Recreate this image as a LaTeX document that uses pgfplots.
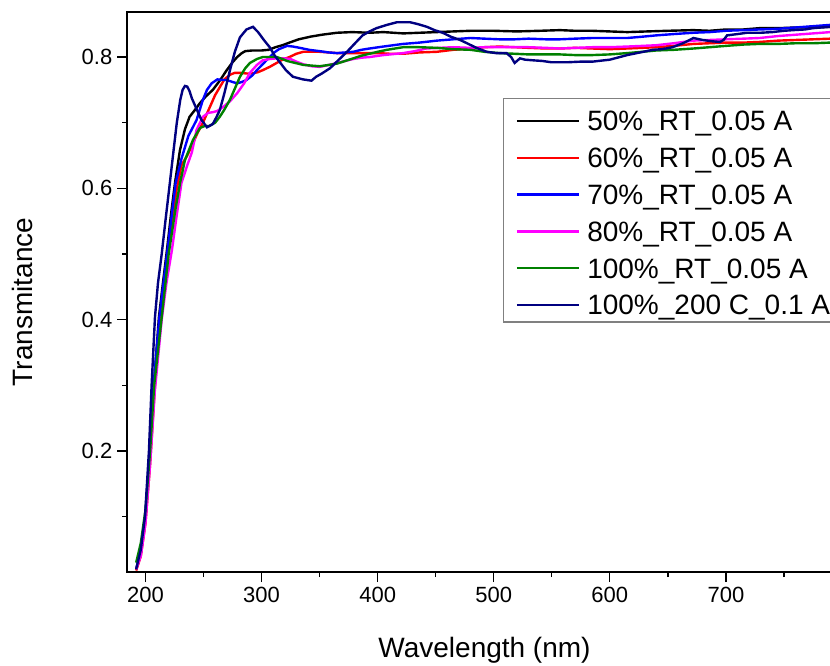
\documentclass[border=0pt]{standalone}
\usepackage{pgfplots}
\pgfplotsset{compat=1.18}
\usepackage{fontspec}
\setmainfont{Liberation Sans}
\definecolor{cgreen}{RGB}{0,128,0}
\definecolor{cnavy}{RGB}{0,0,128}
\definecolor{cmag}{RGB}{255,0,255}
\begin{document}
\begin{tikzpicture}
\path[use as bounding box] (0,0) rectangle (622.5pt,498.75pt);
\clip (0,0) rectangle (622.5pt,498.75pt);
\begin{axis}[
  at={(95.25pt,69.75pt)}, anchor=south west,
  scale only axis, width=536.25pt, height=420pt,
  xmin=184.1, xmax=800, ymin=0.0157, ymax=0.8686,
  xtick={200,300,400,500,600,700},
  minor xtick={250,350,450,550,650,750},
  ytick={0.2,0.4,0.6,0.8},
  minor ytick={0.1,0.3,0.5,0.7},
  tick align=outside,
  major tick length=7.5pt, minor tick length=3.75pt,
  every tick/.style={black, line width=1pt},
  axis line style={line width=1.3pt},
  tick pos=left,
  /pgf/number format/assume math mode=true,
  /pgf/number format/fixed,
  /pgf/number format/precision=1,
  tick label style={font=\fontsize{16.5}{19}\selectfont},
  label style={font=\fontsize{21}{25}\selectfont},
  xlabel={Wavelength (nm)},
  ylabel={Transmitance},
  xlabel style={at={(axis description cs:0.5,-0.1518)}, anchor=base},
  ylabel style={at={(axis description cs:-0.1315,0.482)}, anchor=base, rotate=0},
  legend style={at={(axis description cs:0.5259,0.8464)}, anchor=north west,
    draw=gray, line width=0.8pt, fill=white,
    font=\fontsize{21}{25}\selectfont,
    inner xsep=9pt, inner ysep=1pt, row sep=0pt, column sep=5.5pt,
    nodes={inner xsep=0pt, inner ysep=0pt, text height=23.25pt, text depth=4.35pt}},
  legend cell align=left,
  legend image code/.code={\draw[#1, line width=1.8pt] (0pt,-2pt) -- (46.5pt,-2pt);},
  every axis plot/.append style={line width=1.8pt},
]
% 50%_RT_0.05 A
\addplot[black] coordinates {
(192,0.020) (196,0.045) (200,0.10) (204,0.20) (207.3,0.30) (211.6,0.404) (215,0.455) (218.5,0.506) (222,0.56) (225.4,0.608) (229.7,0.658) (234,0.690) (238,0.709) (242,0.718) (247,0.730) (252,0.740) (258,0.750) (264,0.764) (270,0.780) (275,0.792) (279,0.800) (283,0.806) (286,0.809) (292,0.810) (300,0.810) (306,0.811) (312,0.815) (318,0.818) (324,0.822) (332,0.827) (342,0.831) (352,0.834) (365,0.837) (378,0.838) (393,0.837) (405,0.838) (422,0.836) (436,0.837) (451,0.838) (465,0.839) (480,0.840) (500,0.840) (520,0.839) (540,0.840) (557,0.841) (570,0.840) (585,0.840) (600,0.839) (615,0.838) (632,0.839) (650,0.840) (672,0.841) (686,0.840) (700,0.842) (715,0.842) (729,0.844) (745,0.844) (760,0.845) (775,0.845) (790,0.846)
};
\addlegendentry{50\%\_RT\_0.05 A}
% 60%
\addplot[red] coordinates {
(192,0.018) (196,0.040) (200,0.09) (204,0.18) (207.5,0.28) (210,0.35) (214,0.42) (218,0.48) (222.8,0.55) (227,0.60) (231,0.635) (236,0.650) (241,0.669) (245,0.685) (249.5,0.700) (255.5,0.724) (260,0.742) (264,0.754) (268,0.766) (272.8,0.773) (277,0.776) (281,0.776) (287,0.775) (292,0.775) (297,0.777) (301,0.780) (307,0.785) (313,0.791) (318,0.796) (324,0.800) (330,0.805) (336,0.808) (343,0.808) (350,0.808) (358,0.807) (365,0.806) (372,0.806) (380,0.806) (390,0.806) (400,0.806) (411,0.805) (422,0.805) (436,0.807) (451,0.808) (465,0.811) (480,0.813) (492,0.815) (505,0.816) (518,0.815) (530,0.814) (545,0.813) (557,0.813) (570,0.814) (585,0.813) (600,0.812) (615,0.813) (628,0.814) (640,0.815) (655,0.817) (672,0.820) (686,0.821) (700,0.822) (715,0.822) (729,0.823) (745,0.825) (760,0.826) (775,0.827) (790,0.828)
};
\addlegendentry{60\%\_RT\_0.05 A}
% 70%
\addplot[blue] coordinates {
(192,0.020) (196,0.045) (200,0.10) (204,0.20) (207,0.30) (212,0.404) (219,0.506) (226,0.608) (231,0.645) (237,0.680) (244,0.704) (249.5,0.735) (253,0.750) (257,0.760) (262,0.766) (266,0.765) (270,0.765) (275,0.762) (279,0.760) (283,0.762) (287,0.765) (292,0.772) (296,0.780) (302,0.791) (307,0.800) (311,0.807) (315,0.812) (322,0.817) (327,0.816) (333,0.814) (341,0.811) (350,0.809) (358,0.807) (365,0.806) (372,0.807) (379,0.808) (386,0.811) (393,0.813) (405,0.816) (422,0.820) (436,0.822) (451,0.825) (465,0.827) (480,0.829) (492,0.828) (505,0.827) (518,0.827) (530,0.828) (545,0.827) (557,0.827) (570,0.828) (585,0.829) (600,0.829) (615,0.829) (628,0.831) (640,0.833) (655,0.835) (672,0.837) (686,0.838) (700,0.840) (715,0.841) (729,0.842) (745,0.843) (760,0.845) (775,0.847) (790,0.849)
};
\addlegendentry{70\%\_RT\_0.05 A}
% 80%
\addplot[cmag] coordinates {
(192,0.020) (196,0.040) (200,0.09) (204,0.18) (208,0.29) (214,0.40) (218,0.455) (222.8,0.506) (227,0.56) (231,0.608) (236,0.635) (240,0.655) (244,0.689) (249.5,0.709) (254,0.715) (258,0.716) (262,0.718) (267,0.724) (273,0.733) (279,0.745) (285,0.760) (290,0.776) (296,0.788) (301,0.795) (307,0.797) (313,0.798) (319,0.798) (325,0.797) (330,0.793) (336,0.789) (343,0.786) (350,0.785) (358,0.788) (365,0.791) (372,0.794) (379,0.797) (386,0.799) (393,0.800) (405,0.803) (422,0.806) (432,0.809) (442,0.813) (453,0.814) (465,0.815) (480,0.814) (492,0.815) (505,0.815) (518,0.815) (530,0.815) (545,0.814) (557,0.813) (570,0.814) (585,0.815) (600,0.815) (615,0.816) (628,0.817) (640,0.818) (655,0.821) (672,0.825) (686,0.826) (700,0.827) (715,0.828) (729,0.829) (745,0.832) (760,0.834) (775,0.836) (790,0.838)
};
\addlegendentry{80\%\_RT\_0.05 A}
% 100% RT
\addplot[cgreen] coordinates {
(192,0.030) (196,0.060) (200,0.11) (204,0.20) (207.5,0.30) (214,0.404) (220,0.50) (226,0.57) (230,0.61) (234,0.643) (241,0.674) (247,0.692) (251,0.695) (255,0.695) (260,0.700) (264,0.709) (268,0.720) (272.8,0.735) (277,0.752) (281.4,0.770) (286,0.783) (290,0.791) (296,0.797) (301,0.800) (307,0.800) (313,0.800) (318,0.797) (322,0.794) (329,0.791) (336,0.788) (343,0.787) (350,0.786) (358,0.788) (365,0.790) (372,0.794) (379,0.798) (386,0.802) (393,0.805) (400,0.808) (408,0.811) (415,0.813) (422,0.815) (436,0.815) (451,0.814) (465,0.812) (480,0.811) (492,0.808) (505,0.806) (518,0.805) (530,0.804) (545,0.804) (557,0.804) (570,0.803) (585,0.803) (600,0.804) (615,0.806) (628,0.808) (640,0.810) (655,0.811) (672,0.813) (686,0.815) (700,0.817) (715,0.819) (729,0.820) (745,0.820) (760,0.821) (775,0.821) (790,0.822)
};
\addlegendentry{100\%\_RT\_0.05 A}
% 100% 200 C
\addplot[cnavy] coordinates {
(192,0.020) (196,0.050) (199.6,0.10) (203,0.20) (205.3,0.30) (208.2,0.404) (210.8,0.456) (214,0.50) (217.5,0.555) (221,0.608) (223.7,0.650) (227,0.700) (230,0.735) (232,0.750) (234,0.756) (236,0.755) (238,0.748) (240,0.737) (243,0.725) (248,0.705) (253,0.693) (258,0.698) (261,0.708) (264,0.719) (268,0.745) (272.8,0.780) (277,0.808) (281.4,0.830) (287,0.842) (292.6,0.846) (297,0.838) (302,0.826) (307,0.815) (311,0.803) (315.8,0.792) (321,0.780) (327,0.770) (335.6,0.766) (343,0.764) (347,0.770) (352,0.775) (359,0.783) (366,0.795) (373.6,0.808) (380,0.820) (387,0.833) (393,0.839) (399,0.844) (408,0.849) (416.6,0.853) (428,0.853) (435,0.850) (442.5,0.846) (449,0.841) (456,0.837) (463,0.831) (471,0.826) (477,0.821) (485,0.814) (494,0.808) (502,0.806) (511,0.806) (515,0.800) (518,0.791) (522.6,0.798) (527,0.796) (534,0.795) (542,0.794) (550,0.792) (563,0.792) (575,0.793) (585,0.793) (600,0.796) (615,0.803) (626,0.807) (637,0.811) (645,0.812) (654,0.815) (663,0.821) (672,0.829) (680,0.826) (688,0.824) (695,0.823) (698,0.826) (701,0.833) (710,0.835) (718,0.837) (730,0.837) (740,0.838) (750,0.840) (758,0.841) (768,0.842) (775,0.844) (782,0.845) (790,0.846)
};
\addlegendentry{100\%\_200 C\_0.1 A}
\end{axis}
\end{tikzpicture}
\end{document}
